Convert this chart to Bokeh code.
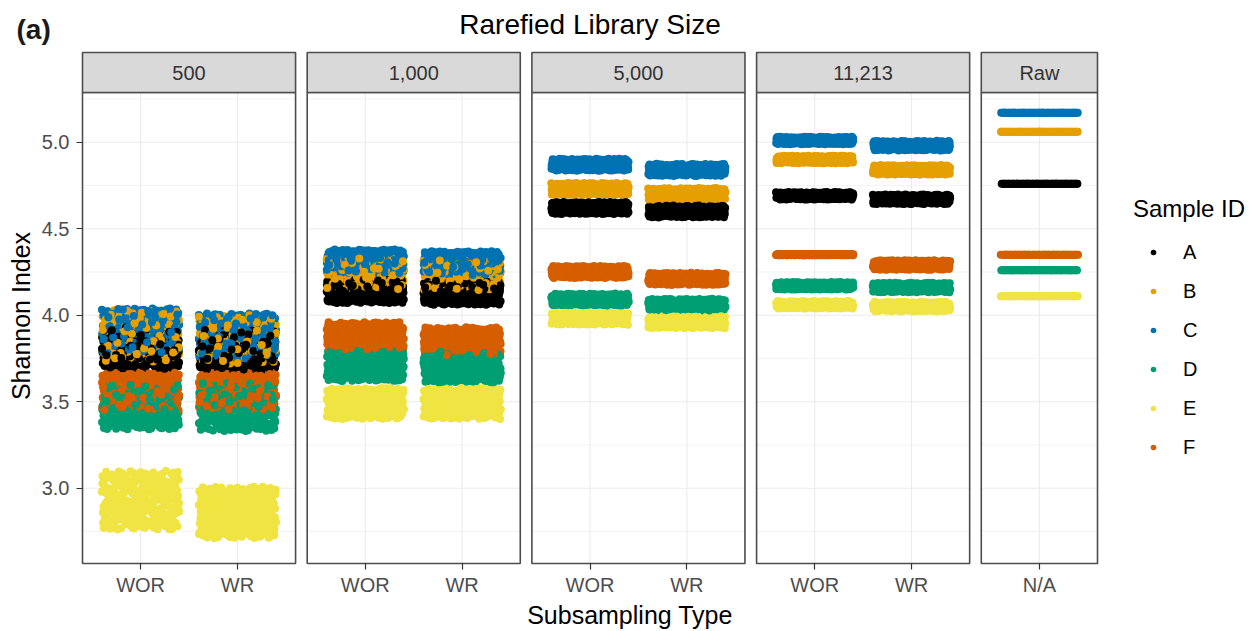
import numpy as np
from bokeh.plotting import figure
from bokeh.models import (ColumnDataSource, Range1d, FixedTicker, PrintfTickFormatter,
                          Legend, LegendItem, Label)
from bokeh.embed import file_html
from bokeh.resources import INLINE
from bokeh.core.properties import value

# ---------------- data ----------------
samples = ["A", "B", "C", "D", "E", "F"]
sample_colors = ["#000000", "#E69F00", "#0072B2", "#009E73", "#F0E442", "#D55E00"]
panel_labels = ["500", "1,000", "5,000", "11,213", "Raw"]
panel_types = [["WOR", "WR"], ["WOR", "WR"], ["WOR", "WR"], ["WOR", "WR"], ["N/A"]]

# centre and half-spread of the Shannon index of each cloud, samples A..F
c_500_wor = [3.81, 3.88, 3.91, 3.47, 2.93, 3.56]
s_500_wor = [0.12, 0.15, 0.13, 0.13, 0.17, 0.11]
c_500_wr = [3.80, 3.86, 3.88, 3.47, 2.86, 3.56]
s_500_wr = [0.12, 0.14, 0.13, 0.14, 0.15, 0.11]
c_1000_wor = [4.14, 4.24, 4.31, 3.71, 3.49, 3.88]
s_1000_wor = [0.07, 0.09, 0.07, 0.09, 0.09, 0.08]
c_1000_wr = [4.13, 4.23, 4.30, 3.70, 3.49, 3.85]
s_1000_wr = [0.07, 0.09, 0.07, 0.09, 0.09, 0.08]
c_5000_wor = [4.62, 4.73, 4.87, 4.09, 3.98, 4.25]
s_5000_wor = [0.035, 0.035, 0.035, 0.035, 0.035, 0.035]
c_5000_wr = [4.60, 4.70, 4.84, 4.06, 3.96, 4.21]
s_5000_wr = [0.035, 0.035, 0.035, 0.035, 0.035, 0.035]
c_11213_wor = [4.69, 4.90, 5.01, 4.17, 4.06, 4.35]
s_11213_wor = [0.022, 0.022, 0.022, 0.022, 0.022, 0.004]
c_11213_wr = [4.67, 4.84, 4.98, 4.16, 4.05, 4.29]
s_11213_wr = [0.028, 0.028, 0.028, 0.028, 0.028, 0.028]
c_raw = [4.76, 5.06, 5.17, 4.26, 4.11, 4.35]
s_raw = [0.0, 0.0, 0.0, 0.0, 0.0, 0.0]

y_major = [3.0, 3.5, 4.0, 4.5, 5.0]
y_minor = [2.75, 3.25, 3.75, 4.25, 4.75, 5.25]

# (panel index, type index, centres, spreads, points per cloud)
groups = [
    (0, 0, c_500_wor, s_500_wor, 260), (0, 1, c_500_wr, s_500_wr, 260),
    (1, 0, c_1000_wor, s_1000_wor, 260), (1, 1, c_1000_wr, s_1000_wr, 260),
    (2, 0, c_5000_wor, s_5000_wor, 220), (2, 1, c_5000_wr, s_5000_wr, 220),
    (3, 0, c_11213_wor, s_11213_wor, 220), (3, 1, c_11213_wr, s_11213_wr, 220),
    (4, 0, c_raw, s_raw, 70),
]

# ---------------- layout of the facets (x units: one category = 1) ----------------
W, H = 1259, 631
gap = 0.12
starts, widths, cat_x, cat_lab = [], [], [], []
pos = 0.0
for k, types in enumerate(panel_types):
    w = 1.2 + (len(types) - 1)
    starts.append(pos)
    widths.append(w)
    for i, t in enumerate(types):
        cat_x.append(pos + 0.6 + i)
        cat_lab.append(t)
    pos += w + gap
x_end = pos - gap

# pixel geometry of the panel area (canvas pixels)
PX_LEFT, PX_RIGHT = 82.0, 1097.0
PY_Y3, PPU_Y = 487.7, 173.0          # pixel row of y = 3.0, pixels per unit
ppu_x = (PX_RIGHT - PX_LEFT) / x_end


def dx(px):      # canvas pixel column -> data x
    return (px - PX_LEFT) / ppu_x


def dy(py):      # canvas pixel row -> data y
    return 3.0 + (PY_Y3 - py) / PPU_Y


y_lo, p_top, s_top = dy(563), dy(92), dy(52)


def radical_inverse(n, base):
    inv, f = 0.0, 1.0 / base
    while n > 0:
        inv += f * (n % base)
        n //= base
        f /= base
    return inv


# ---------------- jittered points ----------------
xs, ys, cols, labs = [], [], [], []
maxn = max(g[4] for g in groups)
for j in range(maxn):
    for gi, (pk, ti, cen, spr, n) in enumerate(groups):
        if j >= n:
            continue
        xc = starts[pk] + 0.6 + ti
        for si in range(len(samples)):
            idx = j + 1 + gi * 53 + si * 211
            xs.append(xc + (2 * radical_inverse(idx, 2) - 1) * 0.4)
            ys.append(cen[si] + (2 * radical_inverse(idx, 3) - 1) * spr[si])
            cols.append(sample_colors[si])
            labs.append(samples[si])

src = ColumnDataSource(dict(x=xs, y=ys, color=cols, sample=labs))

FONT = "Liberation Sans"

p = figure(width=W, height=H, output_backend="svg", toolbar_location=None,
           x_range=Range1d(dx(0), dx(W)), y_range=Range1d(dy(H), dy(0)),
           min_border=0, min_border_left=0, min_border_right=0,
           min_border_top=0, min_border_bottom=0, outline_line_color=None)
p.xgrid.visible = False
p.ygrid.visible = False

# panel backgrounds
pan_cx = [s + w / 2 for s, w in zip(starts, widths)]
p.rect(x=pan_cx, y=(y_lo + p_top) / 2, width=widths, height=p_top - y_lo,
       fill_color="white", line_color=None)

# grid lines inside each panel
gx0, gx1, gy = [], [], []
for s, w in zip(starts, widths):
    for yv in y_minor:
        gx0.append(s); gx1.append(s + w); gy.append(yv)
p.segment(x0=gx0, y0=gy, x1=gx1, y1=gy, line_color="#EBEBEB", line_width=0.6)
gx0, gx1, gy = [], [], []
for s, w in zip(starts, widths):
    for yv in y_major:
        gx0.append(s); gx1.append(s + w); gy.append(yv)
p.segment(x0=gx0, y0=gy, x1=gx1, y1=gy, line_color="#EBEBEB", line_width=1.1)
p.segment(x0=cat_x, y0=y_lo, x1=cat_x, y1=p_top, line_color="#EBEBEB", line_width=1.1)

# points
r = p.scatter(x="x", y="y", source=src, fill_color="color", line_color=None, size=8)

# panel borders and strips
p.rect(x=pan_cx, y=(y_lo + p_top) / 2, width=widths, height=p_top - y_lo,
       fill_color=None, line_color="#4D4D4D", line_width=1.6)
p.rect(x=pan_cx, y=(p_top + s_top) / 2, width=widths, height=s_top - p_top,
       fill_color="#D9D9D9", line_color="#4D4D4D", line_width=1.6)
p.text(x=pan_cx, y=(p_top + s_top) / 2, text=panel_labels,
       text_align="center", text_baseline="middle",
       text_font=value(FONT), text_font_size="20px", text_color="#333333")

# axes, fixed at the edges of the panel area
for ax in (p.xaxis[0], p.yaxis[0]):
    ax.axis_line_color = None
    ax.major_tick_in = 0
    ax.major_tick_out = 6
    ax.major_tick_line_color = "#333333"
    ax.major_tick_line_width = 1.2
    ax.minor_tick_line_color = None
    ax.major_label_text_font = FONT
    ax.major_label_text_font_size = "20px"
    ax.major_label_text_color = "#4D4D4D"
    ax.axis_label_text_font = FONT
    ax.axis_label_text_font_size = "25px"
    ax.axis_label_text_font_style = "normal"
    ax.axis_label_text_color = "#000000"

p.yaxis.fixed_location = 0.0
p.yaxis.ticker = FixedTicker(ticks=y_major)
p.yaxis.formatter = PrintfTickFormatter(format="%.1f")
p.yaxis.axis_label = "Shannon Index"
p.yaxis.major_label_standoff = 7
p.yaxis.axis_label_standoff = 4

p.xaxis.fixed_location = y_lo
p.xaxis.ticker = FixedTicker(ticks=cat_x)
p.xaxis.major_label_overrides = {x: l for x, l in zip(cat_x, cat_lab)}
p.xaxis.axis_label = "Subsampling Type"
p.xaxis.major_label_standoff = 4
p.xaxis.axis_label_standoff = 2

# title and "(a)" tag
p.add_layout(Label(x=(starts[0] + x_end) / 2, y=dy(24), text="Rarefied Library Size",
                   text_font=FONT, text_font_size="28px", text_font_style="normal",
                   text_baseline="alphabetic", text_align="center", text_color="#000000"))
p.add_layout(Label(x=dx(16), y=dy(29), text="(a)",
                   text_font=FONT, text_font_size="28px", text_font_style="bold",
                   text_baseline="alphabetic", text_align="left", text_color="#1A1A1A"))

# legend
items = []
for si, s in enumerate(samples):
    k = labs.index(s)
    items.append(LegendItem(label=s, renderers=[r], index=k))
leg = Legend(items=items, location=(1133, H - 458.5), title="Sample ID",
             title_text_font=FONT, title_text_font_size="24px", title_text_font_style="normal",
             title_text_color="#000000", title_standoff=18,
             label_text_font=FONT, label_text_font_size="20px", label_text_color="#000000",
             glyph_width=40, glyph_height=14, label_height=14, label_standoff=10,
             spacing=16, padding=0, margin=0,
             background_fill_alpha=0, border_line_color=None)
p.add_layout(leg)

open("out.html", "w").write(file_html(p, INLINE))
